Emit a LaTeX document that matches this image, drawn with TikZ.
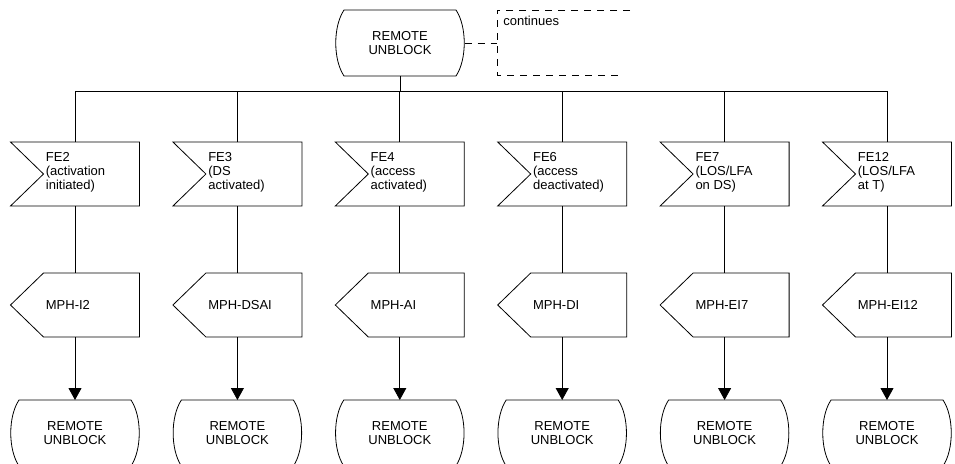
\documentclass[tikz,border=0pt]{standalone}
\usepackage{fontspec}
\setmainfont{Liberation Sans}
\usetikzlibrary{arrows.meta,calc}
\newcommand\stateoutline[1]{%
  \draw ($(#1.north west)+(8.5,0)$) -- ($(#1.north east)+(-8.5,0)$)
    .. controls ($(#1.north east)+(2.5,16.5)$) and ($(#1.south east)+(2.5,-16.5)$) .. ($(#1.south east)+(-8.5,0)$)
    -- ($(#1.south west)+(8.5,0)$)
    .. controls ($(#1.south west)+(-2.5,-16.5)$) and ($(#1.north west)+(-2.5,16.5)$) .. cycle;}
\newcommand\inputoutline[1]{%
  \draw (#1.north west) -- (#1.north east) -- (#1.south east) -- (#1.south west)
    -- ($(#1.west)+(33,0)$) -- cycle;}
\newcommand\outputoutline[1]{%
  \draw (#1.west) -- ($(#1.north west)+(33,0)$) -- (#1.north east) -- (#1.south east)
    -- ($(#1.south west)+(33,0)$) -- cycle;}
\begin{document}
\begin{tikzpicture}[x=1pt,y=-1pt,line width=0.8pt,
  font=\fontsize{13}{14}\selectfont,
  shapebox/.style={minimum width=129pt,minimum height=64pt,inner sep=0pt,outer sep=0pt},
  statebox/.style={minimum width=129pt,minimum height=66pt,inner sep=0pt,outer sep=0pt,align=center},
  lefttext/.style={align=left,anchor=west,inner sep=0pt},
  arrowline/.style={-{Triangle[width=13pt,length=12pt]}},
  dashline/.style={dash pattern=on 7pt off 6pt}]
\useasboundingbox (0,0) rectangle (955,463);
\clip (0,0) rectangle (955,463);

% top state
\node[statebox] (top) at (400,43) {REMOTE\\UNBLOCK};
\stateoutline{top}

% continuation (text extension) box
\coordinate (dbTL) at (497,10);
\coordinate (dbTR) at (630,10);
\coordinate (dbBL) at (497,75);
\coordinate (dbBR) at (623,75);
\draw[dashline] (dbTR) -- (dbTL) -- (dbBL) -- (dbBR);
\draw[dashline] (top.east) -- (top.east -| dbTL);
\node[lefttext] (conttext) at (503,21) {continues};

% bus
\coordinate (busL) at (75,91);
\coordinate (busR) at (887,91);
\draw (busL) -- (busR);
\draw (top.south) -- (top.south |- busL);

\foreach \i/\intext/\outtext in {%
  0/{FE2\\(activation\\initiated)}/{MPH-I2},
  1/{FE3\\(DS\\activated)}/{MPH-DSAI},
  2/{FE4\\(access\\activated)}/{MPH-AI},
  3/{FE6\\(access\\deactivated)}/{MPH-DI},
  4/{FE7\\(LOS/LFA\\on DS)}/{MPH-EI7},
  5/{FE12\\(LOS/LFA\\at T)}/{MPH-EI12}}{
  \pgfmathsetmacro\cx{75+162.4*\i}
  \node[shapebox] (in\i) at (\cx,174) {};
  \inputoutline{in\i}
  \node[lefttext] (intext\i) at ($(in\i.west)+(35,-1.5)$) {\intext};
  \node[shapebox] (out\i) at (\cx,305) {};
  \outputoutline{out\i}
  \node[lefttext] (outtext\i) at ($(out\i.west)+(35,0)$) {\outtext};
  \node[statebox] (bs\i) at (\cx,433) {REMOTE\\UNBLOCK};
  \stateoutline{bs\i}
  \draw (in\i.north) -- (in\i.north |- busL);
  \draw (in\i.south) -- (out\i.north);
  \draw[arrowline] (out\i.south) -- (bs\i.north);
}
\end{tikzpicture}
\end{document}
